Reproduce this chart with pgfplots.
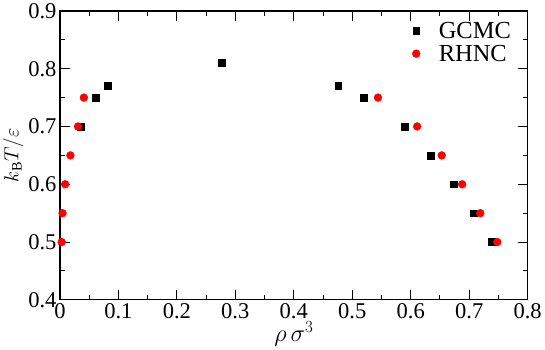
\documentclass[border=0pt]{standalone}
\usepackage{pgfplots}
\pgfplotsset{compat=1.18}
\usepackage{fontspec}
\setmainfont{Liberation Serif}

\begin{document}
\begin{tikzpicture}
\begin{axis}[
    scale only axis,
    width=476bp, height=294bp,
    xmin=0, xmax=0.8, ymin=0.4, ymax=0.9,
    xtick={0,0.1,...,0.8},
    ytick={0.4,0.5,...,0.9},
    minor tick num=1,
    tick align=inside,
    major tick length=10bp,
    minor tick length=5bp,
    axis line style={line width=1.3pt},
    every tick/.style={black, line width=1pt},
    xticklabel style={/pgf/number format/fixed, /pgf/number format/precision=1},
    yticklabel style={/pgf/number format/fixed, /pgf/number format/fixed zerofill, /pgf/number format/precision=1},
    /pgf/number format/assume math mode=true,
    tick label style={font=\fontsize{23}{25}\selectfont},
    xlabel style={font=\fontsize{23}{25}\selectfont, yshift=4bp},
    ylabel style={font=\fontsize{21}{23}\selectfont, yshift=-2bp},
    xlabel={$\rho\,\sigma^{3}$},
    ylabel={$k_{\mathrm{B}}T/\varepsilon$},
    legend style={draw=none, fill=none, at={(0.975,0.975)}, anchor=north east,
        font=\fontsize{25}{26}\selectfont, row sep=1bp,
        /tikz/every odd column/.style={column sep=17bp}},
    legend image code/.code={\draw[#1] plot coordinates {(0bp,0bp)};},
    legend cell align=left,
]
\addplot[only marks, mark=square*, mark size=3.5bp, black] coordinates {
(0.035,0.70) (0.061,0.75) (0.082,0.77) (0.276,0.81)
(0.476,0.77) (0.519,0.75) (0.590,0.70) (0.634,0.65)
(0.673,0.60) (0.707,0.55) (0.738,0.50)
};
\addlegendentry{GCMC}
\addplot[only marks, mark=*, mark size=4bp, red] coordinates {
(0.003,0.50) (0.0045,0.55) (0.009,0.60) (0.018,0.65)
(0.031,0.70) (0.041,0.75)
(0.544,0.75) (0.611,0.70) (0.653,0.65) (0.688,0.60)
(0.719,0.55) (0.748,0.50)
};
\addlegendentry{RHNC}
\end{axis}
\end{tikzpicture}
\end{document}
